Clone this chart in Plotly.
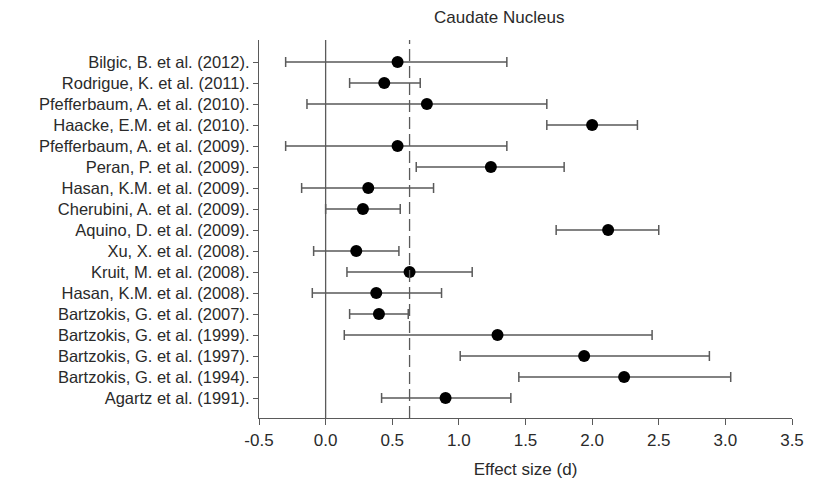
import plotly.graph_objects as go

studies = [
    "Bilgic, B. et al. (2012).",
    "Rodrigue, K. et al. (2011).",
    "Pfefferbaum, A. et al. (2010).",
    "Haacke, E.M. et al. (2010).",
    "Pfefferbaum, A. et al. (2009).",
    "Peran, P. et al. (2009).",
    "Hasan, K.M. et al. (2009).",
    "Cherubini, A. et al. (2009).",
    "Aquino, D. et al. (2009).",
    "Xu, X. et al. (2008).",
    "Kruit, M. et al. (2008).",
    "Hasan, K.M. et al. (2008).",
    "Bartzokis, G. et al. (2007).",
    "Bartzokis, G. et al. (1999).",
    "Bartzokis, G. et al. (1997).",
    "Bartzokis, G. et al. (1994).",
    "Agartz et al. (1991).",
]
effect = [0.54, 0.44, 0.76, 2.00, 0.54, 1.24, 0.32, 0.28, 2.12, 0.23, 0.63, 0.38, 0.40, 1.29, 1.94, 2.24, 0.90]
ci_low = [-0.30, 0.18, -0.14, 1.66, -0.30, 0.68, -0.18, 0.00, 1.73, -0.09, 0.16, -0.10, 0.18, 0.14, 1.01, 1.45, 0.42]
ci_high = [1.36, 0.71, 1.66, 2.34, 1.36, 1.79, 0.81, 0.56, 2.50, 0.55, 1.10, 0.87, 0.62, 2.45, 2.88, 3.04, 1.39]
mean_effect = 0.63
x_ticks = [-0.5, 0.0, 0.5, 1.0, 1.5, 2.0, 2.5, 3.0, 3.5]

err_plus = [h - m for h, m in zip(ci_high, effect)]
err_minus = [m - l for m, l in zip(effect, ci_low)]

font_family = "Liberation Sans, Arial, sans-serif"
gray = "#5a5a5a"
text_color = "#2a2a2a"

fig = go.Figure()
fig.add_trace(go.Scatter(
    x=effect, y=studies, mode="markers",
    marker=dict(color="black", size=12),
    error_x=dict(type="data", symmetric=False, array=err_plus, arrayminus=err_minus,
                 color=gray, thickness=1.5, width=5),
    showlegend=False,
))

fig.add_vline(x=0, line=dict(color=gray, width=1.3))
fig.add_vline(x=mean_effect, line=dict(color=gray, width=1.3, dash="12px,5px"))

fig.update_layout(
    width=816, height=491,
    margin=dict(l=259, r=17, t=40, b=73),
    paper_bgcolor="white", plot_bgcolor="white",
    font=dict(family=font_family, color=text_color, size=17),
    xaxis=dict(range=[-0.5, 3.5], tickvals=x_ticks,
               ticktext=[f"{v:.1f}" for v in x_ticks],
               showgrid=False, zeroline=False, showline=True,
               linecolor=gray, linewidth=1.3, ticks="outside", ticklen=6,
               tickcolor=gray, tickfont=dict(size=17),
               title=dict(text="Effect size (d)", font=dict(size=17), standoff=14)),
    yaxis=dict(type="category", categoryorder="array", categoryarray=studies,
               range=[16.95, -1.05], showgrid=False, zeroline=False,
               showline=True, linecolor=gray, linewidth=1.3,
               ticks="outside", ticklen=5, tickcolor=gray,
               tickfont=dict(size=16.5)),
    annotations=[dict(text="Caudate Nucleus", x=1.30, xref="x", y=1.0, yref="paper",
                      yanchor="bottom", yshift=11, showarrow=False,
                      font=dict(size=17, family=font_family, color=text_color))],
)

fig.write_html("out.html")
